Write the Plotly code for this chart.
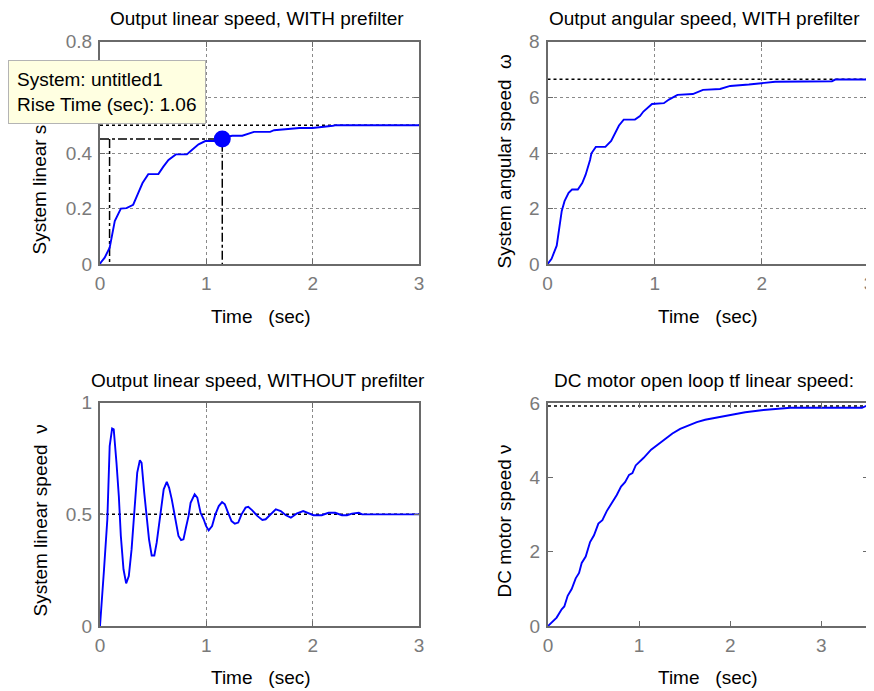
import plotly.graph_objects as go

# ---------------- data ----------------
# Top-left: output linear speed WITH prefilter
t_lin_pf = [0, 0.006, 0.044, 0.091, 0.139, 0.196, 0.249, 0.312, 0.353, 0.4, 0.454, 0.549, 0.596,
            0.644, 0.713, 0.817, 0.864, 0.927, 0.99, 1.1, 1.155, 1.243, 1.338, 1.448, 1.6, 1.637,
            1.874, 2.0, 2.19, 2.22, 3.0]
v_lin_pf = [0, 0.006, 0.024, 0.06, 0.155, 0.2, 0.202, 0.214, 0.25, 0.292, 0.324, 0.324, 0.351,
            0.375, 0.395, 0.395, 0.411, 0.431, 0.443, 0.443, 0.455, 0.462, 0.462, 0.476, 0.476, 0.482,
            0.49, 0.49, 0.498, 0.5, 0.5]
rise_t10 = 0.09
rise_t90 = 1.15
rise_y90 = 0.45
rise_label = ["System: untitled1", "Rise Time (sec): 1.06"]

# Top-right: output angular speed WITH prefilter
t_ang_pf = [0, 0.038, 0.086, 0.102, 0.133, 0.159, 0.197, 0.229, 0.283, 0.324, 0.356, 0.397, 0.41,
            0.451, 0.54, 0.594, 0.625, 0.667, 0.711, 0.816, 0.863, 0.895, 0.975, 1.086, 1.133,
            1.213, 1.356, 1.451, 1.61, 1.657, 1.705, 1.879, 2.0, 2.125, 2.654, 2.685, 3.0]
w_ang_pf = [0, 0.2, 0.67, 1.09, 1.92, 2.27, 2.57, 2.69, 2.69, 2.92, 3.22, 3.75, 3.99,
            4.22, 4.22, 4.43, 4.66, 4.99, 5.2, 5.2, 5.33, 5.49, 5.76, 5.79, 5.92,
            6.09, 6.12, 6.27, 6.3, 6.36, 6.41, 6.46, 6.52, 6.56, 6.58, 6.64, 6.64]

# Bottom-left: output linear speed WITHOUT prefilter
t_lin_nopf = [0, 0.013, 0.038, 0.069, 0.091, 0.114, 0.129, 0.155, 0.177, 0.196, 0.221, 0.246, 0.271,
              0.297, 0.322, 0.35, 0.375, 0.391, 0.416, 0.438, 0.461, 0.486, 0.511, 0.533, 0.555,
              0.58, 0.599, 0.628, 0.65, 0.675, 0.707, 0.738, 0.763, 0.785, 0.808, 0.833, 0.852,
              0.89, 0.915, 0.946, 0.975, 0.997, 1.022, 1.054, 1.085, 1.117, 1.148, 1.174, 1.205,
              1.237, 1.268, 1.3, 1.331, 1.369, 1.394, 1.432, 1.479, 1.527, 1.558, 1.596, 1.653,
              1.7, 1.748, 1.795, 1.848, 1.911, 1.959, 2.007, 2.085, 2.149, 2.212, 2.275, 2.323,
              2.37, 2.434, 2.465, 3.0]
v_lin_nopf = [0, 0.075, 0.254, 0.478, 0.806, 0.885, 0.881, 0.731, 0.582, 0.403, 0.254, 0.191, 0.224,
              0.343, 0.507, 0.687, 0.742, 0.731, 0.597, 0.493, 0.388, 0.316, 0.316, 0.373, 0.448,
              0.552, 0.612, 0.645, 0.619, 0.567, 0.478, 0.403, 0.385, 0.388, 0.44, 0.493, 0.552,
              0.59, 0.575, 0.507, 0.478, 0.448, 0.428, 0.448, 0.5, 0.537, 0.555, 0.545, 0.507,
              0.47, 0.458, 0.463, 0.5, 0.53, 0.534, 0.518, 0.493, 0.475, 0.478, 0.496, 0.522,
              0.515, 0.496, 0.485, 0.503, 0.515, 0.507, 0.496, 0.496, 0.507, 0.507, 0.496, 0.496,
              0.503, 0.507, 0.5, 0.5]

# Bottom-right: DC motor open loop linear speed
t_open = [0, 0.095, 0.15, 0.179, 0.216, 0.26, 0.304, 0.341, 0.37, 0.414, 0.462, 0.505, 0.553,
          0.597, 0.645, 0.7, 0.755, 0.802, 0.846, 0.89, 0.927, 0.963, 1.048, 1.132, 1.212, 1.286,
          1.366, 1.451, 1.542, 1.634, 1.725, 1.835, 1.945, 2.055, 2.165, 2.366, 2.66, 3.447,
          3.495, 3.54]
v_open = [0, 0.226, 0.452, 0.525, 0.814, 0.995, 1.285, 1.43, 1.7, 1.873, 2.262, 2.443, 2.76,
          2.85, 3.095, 3.303, 3.529, 3.756, 3.873, 4.072, 4.118, 4.326, 4.525, 4.751, 4.905, 5.041,
          5.186, 5.312, 5.412, 5.493, 5.557, 5.611, 5.656, 5.72, 5.76, 5.82, 5.88, 5.88,
          5.93, 5.93]

steady_state = [0.5, 6.65, 0.5, 5.93]
x_ranges = [[0, 3], [0, 3], [0, 3], [0, 3.51]]
y_ranges = [[0, 0.8], [0, 8], [0, 1], [0, 6]]
x_ticks = [0, 1, 2, 3]
y_ticks = [[0, 0.2, 0.4, 0.6, 0.8], [0, 2, 4, 6, 8], [0, 0.5, 1], [0, 2, 4, 6]]
y_ticktext = [["0", "0.2", "0.4", "0.6", "0.8"], ["0", "2", "4", "6", "8"], ["0", "0.5", "1"],
              ["0", "2", "4", "6"]]
titles = ["Output linear speed, WITH prefilter", "Output angular speed, WITH prefilter",
          "Output linear speed, WITHOUT prefilter", "DC motor open loop tf linear speed:"]
y_labels = ["System linear speed  ν", "System angular speed  ω", "System linear speed  ν",
            "DC motor speed ν"]
x_label = "Time   (sec)"

# ---------------- layout geometry (window pixels) ----------------
# the page body has an 8px margin, so the figure is offset by (8, 8) in the window
OX, OY = 8, 8
FW, FH = 866, 683
FONT = "Liberation Sans, Arial, sans-serif"
boxes = [  # x0, x1, y0(top), y1(bottom) in window px
    (100, 419, 41.7, 264.3),
    (547.5, 869, 41.7, 264.3),
    (100, 419, 402.7, 626),
    (548, 867.7, 403.3, 626),
]
grid_on = [True, True, True, False]
title_pos = [(257, 18.5), (704, 18.5), (258, 380.7), (703.5, 380.7)]
xlabel_pos = [(260.5, 316), (708, 316), (260.5, 677.5), (708, 677.5)]
ylabel_pos = [(39.5, 159), (503.5, 161), (39.5, 521), (503.5, 521)]


def px(x):
    return (x - OX) / FW


def py(y):
    return 1 - (y - OY) / FH


fig = go.Figure()
series = [(t_lin_pf, v_lin_pf), (t_ang_pf, w_ang_pf), (t_lin_nopf, v_lin_nopf), (t_open, v_open)]

layout = dict(
    width=FW, height=FH, margin=dict(l=0, r=0, t=0, b=0, autoexpand=False),
    paper_bgcolor="white", plot_bgcolor="white", showlegend=False,
    font=dict(family=FONT, size=18, color="black"),
)
annotations = []

for i, (xs, ys) in enumerate(series):
    n = "" if i == 0 else str(i + 1)
    xa, ya = "x" + n, "y" + n
    x0, x1, y0, y1 = boxes[i]
    axis_common = dict(
        showline=True, mirror="ticks", linecolor="#6a6a6a", linewidth=2,
        ticks="inside", ticklen=5, tickcolor="#6a6a6a", tickwidth=1,
        showgrid=grid_on[i], gridcolor="#8a8a8a", griddash="dot", gridwidth=1,
        zeroline=False, automargin=False, ticklabeloverflow="allow",
        tickfont=dict(family=FONT, size=19, color="#7a7a7a"),
    )
    layout["xaxis" + n] = dict(
        axis_common, domain=[px(x0), px(x1)], range=x_ranges[i], anchor=ya,
        tickvals=x_ticks, ticktext=[str(v) for v in x_ticks], ticklabelstandoff=1,
    )
    layout["yaxis" + n] = dict(
        axis_common, domain=[py(y1), py(y0)], range=y_ranges[i], anchor=xa,
        tickvals=y_ticks[i], ticktext=y_ticktext[i], ticklabelstandoff=2,
    )
    # steady-state reference (black dotted)
    fig.add_trace(go.Scatter(
        x=[x_ranges[i][0], x_ranges[i][1]], y=[steady_state[i], steady_state[i]],
        mode="lines", line=dict(color="black", width=1.5, dash="dot"),
        xaxis=xa, yaxis=ya, hoverinfo="skip"))
    if i == 0:
        # rise-time characteristic lines
        fig.add_trace(go.Scatter(
            x=[0, rise_t90, rise_t90, None, rise_t10, rise_t10],
            y=[rise_y90, rise_y90, 0, None, rise_y90, 0],
            mode="lines", line=dict(color="black", width=1.5, dash="dashdot"),
            xaxis=xa, yaxis=ya, hoverinfo="skip"))
    fig.add_trace(go.Scatter(
        x=xs, y=ys, mode="lines", line=dict(color="#0000ff", width=1.9),
        xaxis=xa, yaxis=ya))
    if i == 0:
        fig.add_trace(go.Scatter(
            x=[rise_t90], y=[rise_y90], mode="markers",
            marker=dict(color="#0000ff", size=17, line=dict(width=0)),
            xaxis=xa, yaxis=ya))

    tx, ty = title_pos[i]
    annotations.append(dict(text=titles[i], x=px(tx), y=py(ty), xref="paper", yref="paper",
                            showarrow=False, xanchor="center", yanchor="middle",
                            font=dict(family=FONT, size=19, color="black")))
    lx, ly = xlabel_pos[i]
    annotations.append(dict(text=x_label, x=px(lx), y=py(ly), xref="paper", yref="paper",
                            showarrow=False, xanchor="center", yanchor="middle",
                            font=dict(family=FONT, size=19, color="black")))
    yx, yy = ylabel_pos[i]
    annotations.append(dict(text=y_labels[i], x=px(yx), y=py(yy), xref="paper", yref="paper",
                            showarrow=False, xanchor="center", yanchor="middle", textangle=-90,
                            font=dict(family=FONT, size=19, color="black")))

# data-tip box (drawn last so it sits above the y label)
annotations.append(dict(
    text="<br>".join(rise_label), x=px(8), y=py(60), xref="paper", yref="paper",
    showarrow=False, xanchor="left", yanchor="top", align="left",
    bgcolor="#ffffe1", bordercolor="#b4b4b4", borderwidth=1, borderpad=8,
    font=dict(family=FONT, size=19, color="black")))

layout["annotations"] = annotations
fig.update_layout(**layout)
fig.write_html("out.html")
